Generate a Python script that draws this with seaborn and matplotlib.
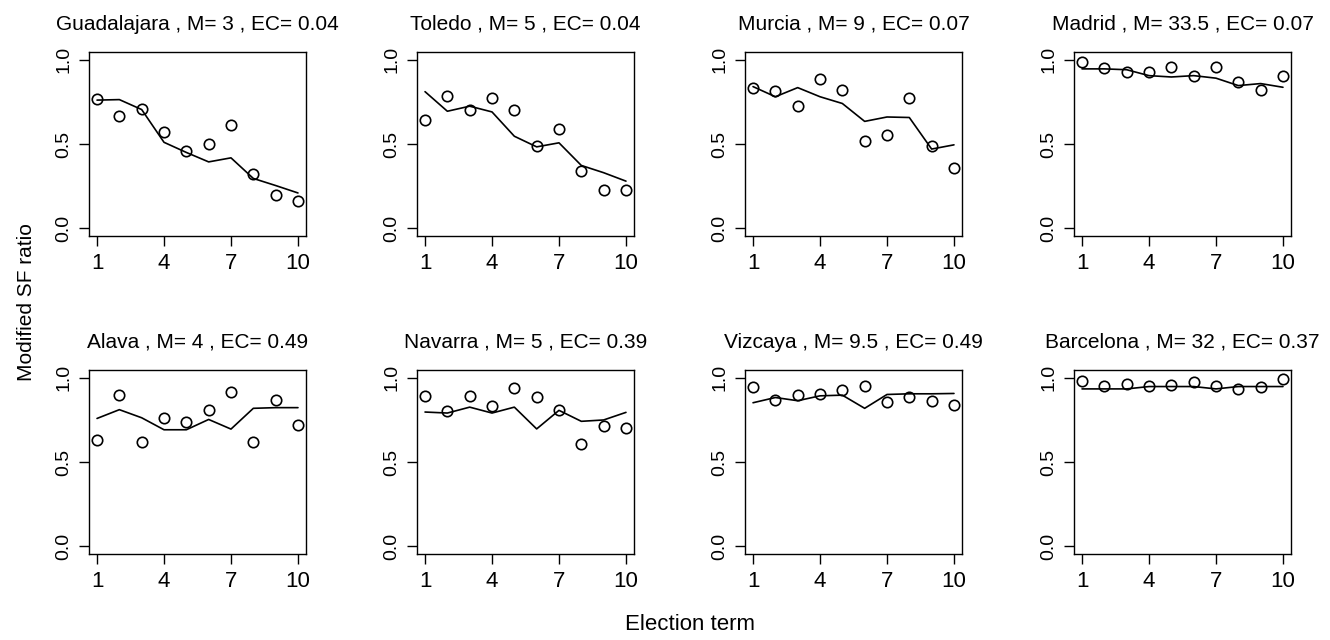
import matplotlib
matplotlib.use("Agg")
import matplotlib.pyplot as plt
import seaborn as sns
import numpy as np

# ---- data ----
terms = [1, 2, 3, 4, 5, 6, 7, 8, 9, 10]
provinces = ["Guadalajara", "Toledo", "Murcia", "Madrid",
             "Alava", "Navarra", "Vizcaya", "Barcelona"]
m_values = ["3", "5", "9", "33.5", "4", "5", "9.5", "32"]
ec_values = ["0.04", "0.04", "0.07", "0.07", "0.49", "0.39", "0.49", "0.37"]

obs_guadalajara = [0.767, 0.665, 0.71, 0.57, 0.458, 0.50, 0.61, 0.323, 0.20, 0.16]
fit_guadalajara = [0.76, 0.763, 0.704, 0.51, 0.45, 0.394, 0.418, 0.296, 0.254, 0.21]
obs_toledo = [0.645, 0.783, 0.704, 0.77, 0.70, 0.49, 0.586, 0.34, 0.227, 0.229]
fit_toledo = [0.81, 0.694, 0.724, 0.69, 0.546, 0.483, 0.507, 0.373, 0.33, 0.28]
obs_murcia = [0.832, 0.812, 0.727, 0.883, 0.820, 0.515, 0.556, 0.772, 0.487, 0.36]
fit_murcia = [0.84, 0.78, 0.834, 0.78, 0.74, 0.634, 0.66, 0.657, 0.47, 0.495]
obs_madrid = [0.988, 0.95, 0.925, 0.927, 0.957, 0.903, 0.957, 0.868, 0.822, 0.90]
fit_madrid = [0.945, 0.945, 0.94, 0.905, 0.897, 0.905, 0.89, 0.846, 0.858, 0.836]
obs_alava = [0.63, 0.898, 0.62, 0.758, 0.738, 0.81, 0.914, 0.62, 0.867, 0.72]
fit_alava = [0.758, 0.81, 0.762, 0.691, 0.691, 0.752, 0.695, 0.818, 0.822, 0.822]
obs_navarra = [0.89, 0.804, 0.892, 0.833, 0.94, 0.888, 0.81, 0.608, 0.712, 0.70]
fit_navarra = [0.796, 0.79, 0.825, 0.79, 0.825, 0.696, 0.806, 0.741, 0.749, 0.794]
obs_vizcaya = [0.945, 0.869, 0.896, 0.90, 0.924, 0.951, 0.857, 0.888, 0.863, 0.839]
fit_vizcaya = [0.851, 0.882, 0.863, 0.892, 0.896, 0.818, 0.90, 0.904, 0.904, 0.906]
obs_barcelona = [0.98, 0.953, 0.963, 0.953, 0.959, 0.972, 0.95, 0.93, 0.945, 0.994]
fit_barcelona = [0.933, 0.933, 0.933, 0.947, 0.947, 0.947, 0.933, 0.947, 0.947, 0.947]

observed = [obs_guadalajara, obs_toledo, obs_murcia, obs_madrid,
            obs_alava, obs_navarra, obs_vizcaya, obs_barcelona]
fitted = [fit_guadalajara, fit_toledo, fit_murcia, fit_madrid,
          fit_alava, fit_navarra, fit_vizcaya, fit_barcelona]

x_ticks = [1, 4, 7, 10]
y_ticks = [0.0, 0.5, 1.0]
y_ticklabels = ["0.0", "0.5", "1.0"]

# ---- style ----
sns.set_style("ticks")
plt.rcParams['font.family'] = ['Liberation Sans', 'DejaVu Sans']
plt.rcParams['axes.edgecolor'] = 'black'
plt.rcParams['axes.linewidth'] = 1.0
plt.rcParams['xtick.color'] = 'black'
plt.rcParams['ytick.color'] = 'black'
plt.rcParams['xtick.labelcolor'] = 'black'
plt.rcParams['ytick.labelcolor'] = 'black'
plt.rcParams['text.color'] = 'black'
plt.rcParams['axes.labelcolor'] = 'black'
plt.rcParams['axes.titlecolor'] = 'black'

W, H = 1330, 640
fig = plt.figure(figsize=(W / 100, H / 100), dpi=100)
fig.patch.set_facecolor('white')

col_lefts = [89, 417, 745, 1074]
row_tops = [52, 370]
aw, ah = 217, 184

for i in range(8):
    r, c = divmod(i, 4)
    left = col_lefts[c] / W
    bottom = 1 - (row_tops[r] + ah) / H
    ax = fig.add_axes([left, bottom, aw / W, ah / H])
    sns.lineplot(x=terms, y=fitted[i], ax=ax, color='black', lw=1.2,
                 estimator=None, sort=False)
    sns.lineplot(x=terms, y=observed[i], ax=ax, marker='o', linestyle='none',
                 markerfacecolor='none', markeredgecolor='black',
                 markersize=7.5, markeredgewidth=1.2, estimator=None, sort=False)
    ax.set_xlim(0.64, 10.36)
    ax.set_ylim(-0.045, 1.045)
    ax.set_xticks(x_ticks)
    ax.set_xticklabels([str(t) for t in x_ticks])
    ax.set_yticks(y_ticks)
    ax.set_yticklabels(y_ticklabels, rotation=90, va='center')
    ax.tick_params(axis='both', length=7, width=1.0, direction='out',
                   colors='black')
    ax.tick_params(axis='x', labelsize=16, pad=5)
    ax.tick_params(axis='y', labelsize=14, pad=5)
    for s in ax.spines.values():
        s.set_visible(True)
        s.set_color('black')
        s.set_linewidth(1.0)
    ax.set_xlabel('')
    ax.set_ylabel('')
    ax.set_title(f"{provinces[i]} , M= {m_values[i]} , EC= {ec_values[i]}",
                 fontsize=15, pad=16, color='black')

fig.text(27 / W, 1 - 302 / H, "Modified SF ratio", rotation=90,
         ha='center', va='center', fontsize=15, color='black')
fig.text(690 / W, 1 - 625 / H, "Election term", ha='center', va='center',
         fontsize=16, color='black')

fig.savefig("out.png", dpi=100, facecolor='white')
